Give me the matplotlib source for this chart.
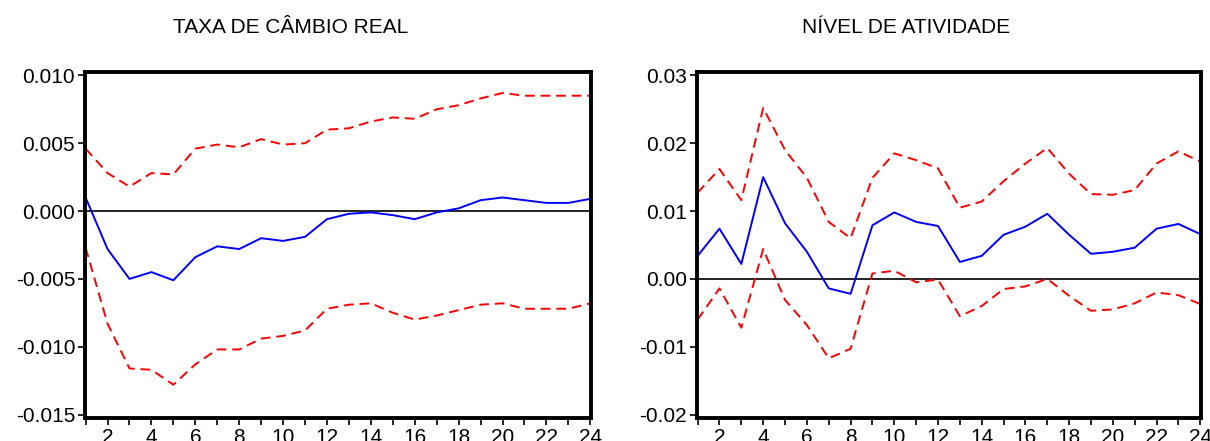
import numpy as np
import matplotlib
matplotlib.use("Agg")
import matplotlib.pyplot as plt

plt.rcParams["font.family"] = ["Liberation Sans", "DejaVu Sans"]

periods = np.arange(1, 25)

# TAXA DE CAMBIO REAL
cambio_resp = [0.0010, -0.0028, -0.0050, -0.0045, -0.0051, -0.0034, -0.0026, -0.0028,
               -0.0020, -0.0022, -0.0019, -0.0006, -0.0002, -0.0001, -0.0003, -0.0006,
               -0.0001, 0.0002, 0.0008, 0.0010, 0.0008, 0.0006, 0.0006, 0.0009]
cambio_upper = [0.0046, 0.0028, 0.0018, 0.0028, 0.0027, 0.0046, 0.0049, 0.0047,
                0.0053, 0.0049, 0.0050, 0.0060, 0.0061, 0.0066, 0.0069, 0.0068,
                0.0075, 0.0078, 0.0083, 0.0087, 0.0085, 0.0085, 0.0085, 0.0085]
cambio_lower = [-0.0027, -0.0083, -0.0116, -0.0117, -0.0128, -0.0113, -0.0102, -0.0102,
                -0.0094, -0.0092, -0.0088, -0.0072, -0.0069, -0.0068, -0.0075, -0.0080,
                -0.0077, -0.0073, -0.0069, -0.0068, -0.0072, -0.0072, -0.0072, -0.0068]

# NIVEL DE ATIVIDADE
ativ_resp = [0.0034, 0.0074, 0.0022, 0.0150, 0.0082, 0.0040, -0.0014, -0.0022,
             0.0079, 0.0098, 0.0084, 0.0078, 0.0025, 0.0034, 0.0065, 0.0077,
             0.0096, 0.0065, 0.0037, 0.0040, 0.0046, 0.0074, 0.0081, 0.0066]
ativ_upper = [0.0127, 0.0162, 0.0116, 0.0252, 0.0190, 0.0149, 0.0084, 0.0060,
              0.0149, 0.0185, 0.0175, 0.0163, 0.0105, 0.0114, 0.0144, 0.0170,
              0.0193, 0.0155, 0.0125, 0.0124, 0.0131, 0.0170, 0.0188, 0.0173]
ativ_lower = [-0.0060, -0.0014, -0.0072, 0.0044, -0.0031, -0.0068, -0.0117, -0.0103,
              0.0008, 0.0012, -0.0005, -0.0001, -0.0055, -0.0040, -0.0015, -0.0011,
              0.0000, -0.0025, -0.0047, -0.0045, -0.0036, -0.0020, -0.0024, -0.0037]

cambio_ticks = [-0.015, -0.010, -0.005, 0.000, 0.005, 0.010]
ativ_ticks = [-0.02, -0.01, 0.00, 0.01, 0.02, 0.03]

fig = plt.figure(figsize=(12.1, 4.41), dpi=100)
ax1 = fig.add_axes([0.0702, 0.0522, 0.4182, 0.7846])
ax2 = fig.add_axes([0.5760, 0.0522, 0.4165, 0.7846])


def draw_panel(ax, resp, upper, lower, yticks, fmt, ylim):
    ax.axhline(0, color="black", lw=1.2, zorder=1)
    ax.plot(periods, upper, "--", color="#ff0000", lw=1.4, dashes=(5, 3))
    ax.plot(periods, lower, "--", color="#ff0000", lw=1.4, dashes=(5, 3))
    ax.plot(periods, resp, "-", color="#0000ff", lw=1.4)
    ax.set_xlim(0.97, 24.03)
    ax.set_ylim(*ylim)
    ax.set_xticks(periods)
    ax.set_xticklabels([str(p) if p % 2 == 0 else "" for p in periods])
    ax.set_yticks(yticks)
    ax.set_yticklabels([fmt.format(v) for v in yticks])
    for s in ax.spines.values():
        s.set_linewidth(2.8)
    ax.tick_params(axis="both", direction="out", length=5, width=1.2,
                   labelsize=15, pad=2)


draw_panel(ax1, cambio_resp, cambio_upper, cambio_lower, cambio_ticks,
           "{:.3f}", (-0.01525, 0.01025))
draw_panel(ax2, ativ_resp, ativ_upper, ativ_lower, ativ_ticks,
           "{:.2f}", (-0.0205, 0.0305))

fig.text(0.2405, 0.937, "TAXA DE CÂMBIO REAL", ha="center", va="center", fontsize=15)
fig.text(0.749, 0.937, "NÍVEL DE ATIVIDADE", ha="center", va="center", fontsize=15)

fig.savefig("out.png", dpi=100)
